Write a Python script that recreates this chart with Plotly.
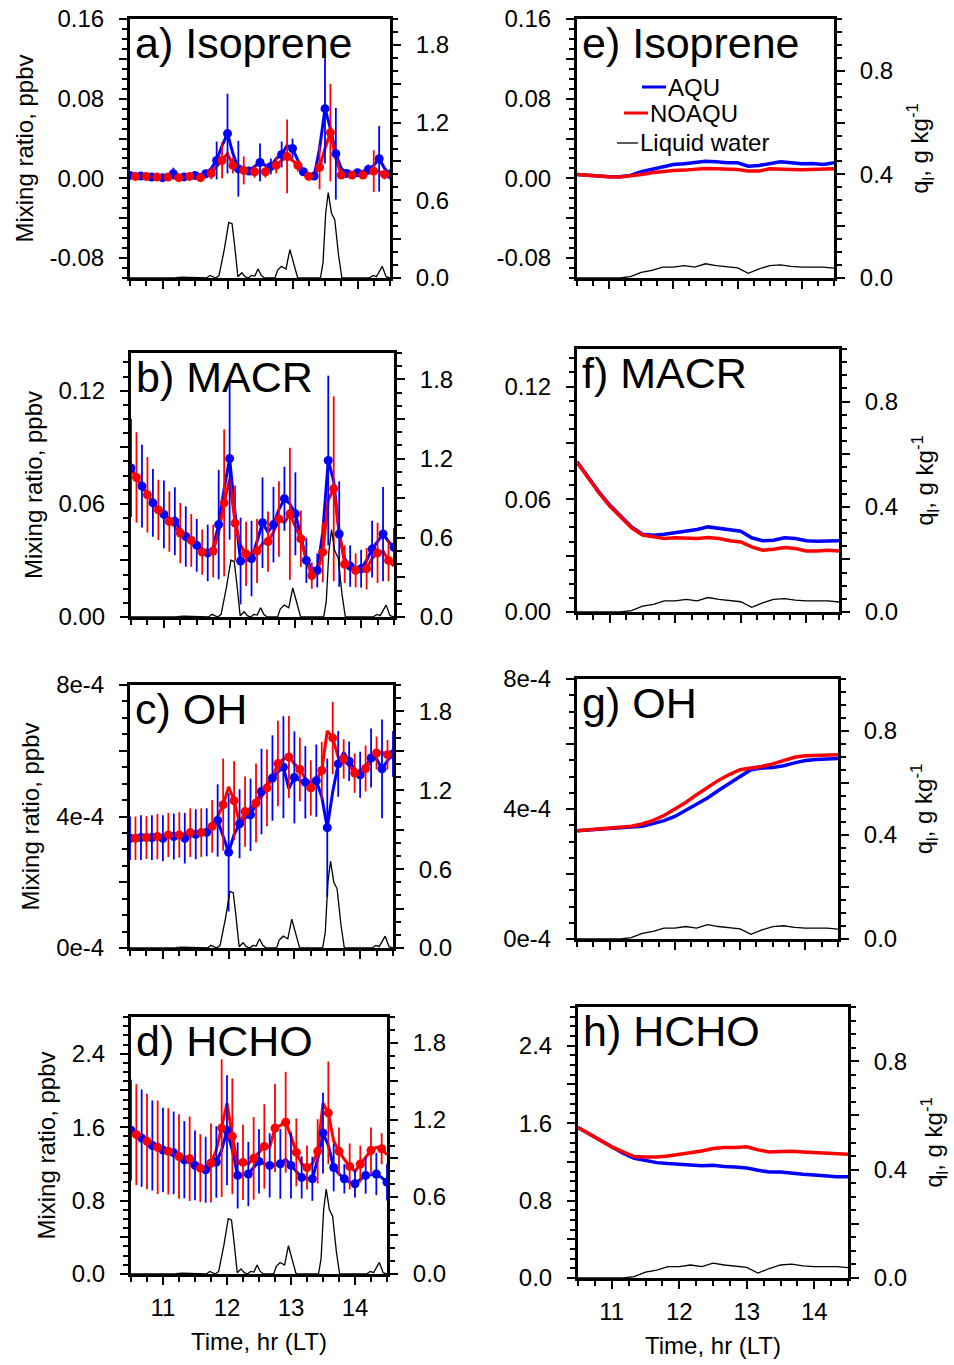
import numpy as np
import plotly.graph_objects as go

# ---------------- data ----------------
# left column: 5-min model output, AQU markers on even steps, NOAQU markers on odd steps
time_5min = np.round(np.arange(10.5, 14.5001, 5 / 60), 4)
# right column: domain means every 10 min
time_10min = np.round(np.arange(10.5, 14.5001, 10 / 60), 4)

iso_aqu = [0.003, 0.0027, 0.0023, 0.0018, 0.0013, 0.001, 0.0007, 0.003, 0.0047, 0.003,
           0.0015, 0.002, 0.003, 0.004, 0.0047, 0.01, 0.018, 0.033, 0.045, 0.025,
           0.0097, 0.009, 0.0073, 0.012, 0.016, 0.013, 0.012, 0.02, 0.024, 0.033,
           0.030, 0.018, 0.0067, 0.004, 0.0023, 0.03, 0.070, 0.05, 0.0247, 0.01,
           0.005, 0.005, 0.0057, 0.007, 0.009, 0.013, 0.0197, 0.01, 0.004]
iso_noaqu = [0.003, 0.002, 0.002, 0.002, 0.0016, 0.0013, 0.0013, 0.0013, 0.001, 0.0007,
             0.0014, 0.002, 0.0013, 0.0007, 0.002, 0.005, 0.012, 0.018, 0.025, 0.013,
             0.009, 0.008, 0.007, 0.0067, 0.0067, 0.0067, 0.009, 0.013, 0.018, 0.022,
             0.018, 0.013, 0.006, 0.002, 0.003, 0.011, 0.03, 0.046, 0.02, 0.0033,
             0.003, 0.0033, 0.0033, 0.0033, 0.005, 0.0073, 0.007, 0.004, 0.003]
iso_aqu_err = [0.002, 0.002, 0.002, 0.002, 0.006, 0.002, 0.002, 0.004, 0.019, 0.04,
               0.028, 0.003, 0.019, 0.008, 0.013, 0.01, 0.003, 0.002, 0.055, 0.046,
               0.003, 0.003, 0.005, 0.033, 0.005]
iso_noaqu_err = [0.002, 0.002, 0.002, 0.002, 0.002, 0.002, 0.002, 0.006, 0.018, 0.008,
                 0.014, 0.006, 0.006, 0.008, 0.037, 0.006, 0.002, 0.022, 0.049, 0.002,
                 0.002, 0.002, 0.021, 0.005]

macr_aqu = [0.079, 0.074, 0.0694, 0.065, 0.0605, 0.057, 0.0544, 0.052, 0.0508, 0.047,
            0.0427, 0.040, 0.038, 0.036, 0.034, 0.037, 0.049, 0.068, 0.084, 0.055,
            0.0297, 0.030, 0.031, 0.04, 0.05, 0.045, 0.049, 0.057, 0.0627, 0.060,
            0.0547, 0.043, 0.030, 0.026, 0.0247, 0.045, 0.083, 0.072, 0.044, 0.031,
            0.027, 0.026, 0.0256, 0.030, 0.036, 0.040, 0.044, 0.040, 0.037]
macr_noaqu = [0.078, 0.074, 0.069, 0.0648, 0.061, 0.0568, 0.054, 0.0506, 0.048, 0.0445,
              0.042, 0.0406, 0.037, 0.0344, 0.034, 0.035, 0.045, 0.0605, 0.073, 0.0498,
              0.038, 0.0335, 0.034, 0.035, 0.039, 0.04, 0.045, 0.052, 0.050, 0.0547,
              0.048, 0.0415, 0.030, 0.022, 0.024, 0.0344, 0.062, 0.068, 0.045, 0.028,
              0.026, 0.0247, 0.025, 0.0256, 0.031, 0.034, 0.035, 0.030, 0.027]
macr_aqu_err = [0.026, 0.022, 0.018, 0.018, 0.018, 0.016, 0.014, 0.015, 0.029, 0.043,
                0.023, 0.02, 0.024, 0.02, 0.017, 0.022, 0.012, 0.009, 0.045, 0.028,
                0.011, 0.01, 0.015, 0.025, 0.01]
macr_noaqu_err = [0.024, 0.02, 0.016, 0.016, 0.016, 0.014, 0.012, 0.014, 0.039, 0.02,
                  0.017, 0.017, 0.016, 0.02, 0.035, 0.015, 0.007, 0.016, 0.049, 0.01,
                  0.009, 0.011, 0.016, 0.011]

# OH in units of 1e-4 ppbv
oh_aqu = [3.34, 3.35, 3.36, 3.36, 3.36, 3.35, 3.34, 3.37, 3.39, 3.37,
          3.34, 3.40, 3.46, 3.49, 3.52, 3.65, 3.88, 3.40, 2.91, 3.45,
          3.78, 3.95, 4.05, 4.40, 4.76, 4.98, 5.17, 5.35, 5.50, 4.85,
          5.19, 5.10, 5.04, 5.05, 5.09, 4.60, 3.66, 4.75, 5.60, 5.95,
          5.68, 5.45, 5.27, 5.50, 5.78, 5.75, 5.45, 5.70, 5.90]
oh_noaqu = [3.33, 3.34, 3.35, 3.36, 3.38, 3.39, 3.42, 3.44, 3.44, 3.44,
            3.48, 3.51, 3.51, 3.51, 3.58, 3.70, 4.00, 4.36, 4.90, 4.48,
            3.80, 4.15, 4.25, 4.41, 4.60, 4.87, 5.20, 5.61, 5.75, 5.81,
            5.60, 5.43, 5.15, 4.87, 5.10, 5.40, 6.60, 6.39, 5.80, 5.75,
            5.55, 5.32, 5.40, 5.46, 5.70, 5.93, 5.95, 5.88, 5.80]
oh_aqu_err = [0.66, 0.68, 0.68, 0.7, 0.7, 0.77, 0.76, 0.73, 1.1, 1.8,
              1.05, 1.1, 1.3, 1.3, 1.55, 1.4, 1.1, 1.1, 2.1, 1.0,
              0.6, 0.7, 0.9, 1.5, 0.7]
oh_noaqu_err = [0.66, 0.65, 0.69, 0.67, 0.69, 0.74, 0.74, 0.8, 1.4, 1.2,
                1.07, 1.2, 1.17, 1.3, 1.25, 0.97, 0.84, 0.87, 1.1, 0.6,
                0.6, 0.7, 0.5, 0.45]

hcho_aqu = [1.566, 1.52, 1.48, 1.44, 1.40, 1.37, 1.35, 1.33, 1.32, 1.28,
            1.245, 1.21, 1.183, 1.16, 1.136, 1.17, 1.22, 1.35, 1.566, 1.35,
            1.074, 1.08, 1.09, 1.16, 1.227, 1.20, 1.183, 1.19, 1.20, 1.25,
            1.183, 1.11, 1.052, 1.04, 1.037, 1.25, 1.536, 1.40, 1.16, 1.09,
            1.037, 1.00, 0.983, 1.03, 1.074, 1.08, 1.09, 1.05, 1.0]
hcho_noaqu = [1.56, 1.518, 1.48, 1.445, 1.41, 1.38, 1.36, 1.336, 1.31, 1.28,
              1.27, 1.256, 1.20, 1.154, 1.17, 1.209, 1.35, 1.59, 1.86, 1.50,
              1.20, 1.216, 1.20, 1.26, 1.32, 1.39, 1.38, 1.59, 1.62, 1.653,
              1.50, 1.325, 1.20, 1.16, 1.20, 1.336, 1.86, 1.755, 1.45, 1.336,
              1.25, 1.172, 1.12, 1.198, 1.28, 1.347, 1.38, 1.365, 1.30]
hcho_aqu_err = [0.55, 0.53, 0.49, 0.46, 0.45, 0.42, 0.38, 0.36, 0.39, 0.6,
                0.36, 0.35, 0.35, 0.35, 0.38, 0.36, 0.23, 0.24, 0.44, 0.26,
                0.16, 0.15, 0.2, 0.23, 0.2]
hcho_noaqu_err = [0.55, 0.52, 0.51, 0.47, 0.46, 0.46, 0.37, 0.43, 0.75, 0.63,
                  0.41, 0.45, 0.46, 0.48, 0.55, 0.37, 0.24, 0.35, 0.56, 0.26,
                  0.25, 0.2, 0.25, 0.17]

# liquid water at the site, g/kg
lw_time = [10.5, 11.05, 11.12, 11.2, 11.3, 11.4, 11.48, 11.68, 11.73, 11.78,
           11.82, 11.87, 11.95, 12.02, 12.07, 12.11, 12.16, 12.22, 12.27, 12.32,
           12.37, 12.42, 12.47, 12.52, 12.57, 12.73, 12.77, 12.83, 12.9, 12.96,
           13.02, 13.08, 13.43, 13.47, 13.51, 13.55, 13.6, 13.65, 13.71, 13.76,
           14.18, 14.24, 14.29, 14.33, 14.38, 14.44, 14.5]
lw_site = [0, 0, 0.005, 0.003, 0.006, 0.004, 0, 0, 0.02, 0.012,
           0, 0.02, 0.22, 0.43, 0.42, 0.25, 0.01, 0.04, 0.01, 0,
           0.02, 0.015, 0.07, 0.02, 0, 0, 0.06, 0.09, 0.07, 0.22,
           0.1, 0, 0, 0.12, 0.5, 0.66, 0.5, 0.45, 0.17, 0,
           0, 0.02, 0.01, 0.05, 0.09, 0.01, 0]

# domain means (right column)
iso_aqu_mean = [0.004, 0.003, 0.0023, 0.0017, 0.0017, 0.003, 0.0067, 0.009, 0.0117, 0.014,
                0.0147, 0.0157, 0.0173, 0.0167, 0.0157, 0.0157, 0.0123, 0.013, 0.015, 0.0167,
                0.0157, 0.0147, 0.015, 0.014, 0.0157]
iso_noaqu_mean = [0.004, 0.003, 0.0023, 0.0017, 0.0013, 0.0023, 0.004, 0.0057, 0.007, 0.008,
                  0.0083, 0.009, 0.01, 0.0097, 0.009, 0.009, 0.0073, 0.0073, 0.0097, 0.0097,
                  0.009, 0.0087, 0.009, 0.009, 0.0097]
macr_aqu_mean = [0.080, 0.072, 0.064, 0.0569, 0.051, 0.0453, 0.0414, 0.0409, 0.0414, 0.0423,
                 0.0428, 0.0439, 0.0453, 0.0444, 0.0439, 0.043, 0.0395, 0.0379, 0.0382, 0.0395,
                 0.0391, 0.0379, 0.0377, 0.0377, 0.0379]
macr_noaqu_mean = [0.0797, 0.0715, 0.0635, 0.0564, 0.0507, 0.0448, 0.041, 0.040, 0.0391, 0.0395,
                   0.0391, 0.0391, 0.0396, 0.0391, 0.0379, 0.0373, 0.0347, 0.0329, 0.0334, 0.0343,
                   0.0338, 0.0325, 0.0325, 0.0329, 0.0325]
oh_aqu_mean = [3.33, 3.36, 3.39, 3.40, 3.42, 3.44, 3.47, 3.55, 3.64, 3.77,
               3.96, 4.13, 4.34, 4.57, 4.80, 5.0, 5.21, 5.26, 5.28, 5.33,
               5.42, 5.49, 5.52, 5.54, 5.55]
oh_noaqu_mean = [3.33, 3.36, 3.39, 3.41, 3.43, 3.47, 3.54, 3.65, 3.80, 4.0,
                 4.2, 4.44, 4.67, 4.88, 5.06, 5.21, 5.26, 5.31, 5.39, 5.49,
                 5.59, 5.64, 5.65, 5.67, 5.67]
hcho_aqu_mean = [1.555, 1.486, 1.417, 1.355, 1.289, 1.237, 1.21, 1.192, 1.182, 1.175,
                 1.168, 1.161, 1.165, 1.151, 1.147, 1.137, 1.113, 1.096, 1.096, 1.082,
                 1.071, 1.064, 1.054, 1.047, 1.047]
hcho_noaqu_mean = [1.555, 1.49, 1.42, 1.355, 1.303, 1.255, 1.251, 1.251, 1.261, 1.279,
                   1.289, 1.313, 1.337, 1.348, 1.348, 1.355, 1.324, 1.303, 1.306, 1.31,
                   1.303, 1.296, 1.289, 1.286, 1.279]
lw_mean = [0, 0, 0, 0, 0, 0.005, 0.022, 0.029, 0.042, 0.042,
           0.048, 0.042, 0.055, 0.048, 0.044, 0.039, 0.018, 0.035, 0.048, 0.051,
           0.045, 0.042, 0.042, 0.042, 0.038]

# ---------------- figure ----------------
W, H = 954, 1365
FONT = "Liberation Sans, Arial, Helvetica, sans-serif"
BLUE, RED = "#0000ff", "#ff0000"

e4 = lambda v: [x * 1e-4 for x in v]

# every other major tick is unlabelled, like the original
yaxes_left = {
    "Isoprene": dict(range=[-0.1, 0.16], tickvals=[-0.08, -0.04, 0, 0.04, 0.08, 0.12, 0.16],
                     ticktext=["-0.08", "", "0.00", "", "0.08", "", "0.16"], minor=0.01),
    "MACR": dict(range=[0, 0.14], tickvals=[0, 0.03, 0.06, 0.09, 0.12],
                 ticktext=["0.00", "", "0.06", "", "0.12"], minor=0.0075),
    "OH": dict(range=[0, 8e-4], tickvals=[0, 2e-4, 4e-4, 6e-4, 8e-4],
               ticktext=["0e-4", "", "4e-4", "", "8e-4"], minor=0.5e-4),
    "HCHO": dict(range=[0, 2.8], tickvals=[0, 0.4, 0.8, 1.2, 1.6, 2.0, 2.4],
                 ticktext=["0.0", "", "0.8", "", "1.6", "", "2.4"], minor=0.1),
}

# (label, species, column, box in px: left, right, top, bottom)
panels = [
    ("a", "Isoprene", 0, (130, 390, 19, 278), iso_aqu, iso_noaqu, iso_aqu_err, iso_noaqu_err),
    ("b", "MACR", 0, (131, 394, 353, 617), macr_aqu, macr_noaqu, macr_aqu_err, macr_noaqu_err),
    ("c", "OH", 0, (130, 393, 685, 948), e4(oh_aqu), e4(oh_noaqu), e4(oh_aqu_err), e4(oh_noaqu_err)),
    ("d", "HCHO", 0, (131, 387, 1017, 1274), hcho_aqu, hcho_noaqu, hcho_aqu_err, hcho_noaqu_err),
    ("e", "Isoprene", 1, (577, 834, 19, 278), iso_aqu_mean, iso_noaqu_mean, None, None),
    ("f", "MACR", 1, (577, 839, 349, 612), macr_aqu_mean, macr_noaqu_mean, None, None),
    ("g", "OH", 1, (577, 838, 679, 939), e4(oh_aqu_mean), e4(oh_noaqu_mean), None, None),
    ("h", "HCHO", 1, (578, 848, 1007, 1278), hcho_aqu_mean, hcho_noaqu_mean, None, None),
]

fig = go.Figure()
layout = {}
annotations = []

tick_font = dict(family=FONT, size=24, color="black")
common = dict(showline=True, linecolor="black", linewidth=3, ticks="outside", ticklen=8,
              tickwidth=2, tickcolor="black", showgrid=False, zeroline=False,
              tickfont=tick_font, ticklabelstandoff=10, automargin=False)
minor_style = dict(ticks="outside", ticklen=5, tickwidth=1.5, tickcolor="black", showgrid=False)


def name(kind, n):
    return kind if n == 1 else f"{kind}{n}"


for k, (lab, sp, col, box, aqu, noaqu, aqu_err, noaqu_err) in enumerate(panels):
    n = k + 1
    xn, yn, y2n = n, 2 * n - 1, 2 * n
    l, r, t, b = box
    xdom = [l / W, r / W]
    ydom = [1 - b / H, 1 - t / H]
    bottom = lab in ("d", "h")

    layout[name("xaxis", xn)] = dict(
        common, domain=xdom, anchor=name("y", yn), range=[10.5, 14.5], mirror=True,
        tickmode="array", tickvals=[11, 12, 13, 14], ticktext=["11", "12", "13", "14"],
        showticklabels=bottom, ticklabelstandoff=2,
        minor=dict(minor_style, dtick=0.25, tick0=10.5),
        title=dict(text="Time, hr (LT)" if bottom else None, font=dict(family=FONT, size=24),
                   standoff=14),
    )

    ya = yaxes_left[sp]
    layout[name("yaxis", yn)] = dict(
        common, domain=ydom, anchor=name("x", xn), range=ya["range"], tickmode="array",
        tickvals=ya["tickvals"], ticktext=ya["ticktext"],
        minor=dict(minor_style, dtick=ya["minor"], tick0=0),
        title=dict(text="Mixing ratio, ppbv" if col == 0 else None,
                   font=dict(family=FONT, size=24), standoff=10),
    )

    if col == 0:
        y2 = dict(range=[0, 2.0], tickvals=[0, 0.3, 0.6, 0.9, 1.2, 1.5, 1.8],
                  ticktext=["0.0", "", "0.6", "", "1.2", "", "1.8"], minor=0.1, title=None)
    else:
        y2 = dict(range=[0, 1.0], tickvals=[0, 0.2, 0.4, 0.6, 0.8],
                  ticktext=["0.0", "", "0.4", "", "0.8"], minor=0.05,
                  title="q<sub>l</sub>, g kg<sup>-1</sup>")
    layout[name("yaxis", y2n)] = dict(
        common, domain=ydom, anchor=name("x", xn), overlaying=name("y", yn), side="right",
        range=y2["range"], tickmode="array", tickvals=y2["tickvals"], ticktext=y2["ticktext"],
        minor=dict(minor_style, dtick=y2["minor"], tick0=0),
        title=dict(text=y2["title"], font=dict(family=FONT, size=24), standoff=20),
    )

    xr, yr, y2r = name("x", xn), name("y", yn), name("y", y2n)
    if col == 0:
        tt = time_5min
        fig.add_trace(go.Scatter(x=tt, y=aqu, mode="lines", line=dict(color=BLUE, width=3),
                                 xaxis=xr, yaxis=yr))
        fig.add_trace(go.Scatter(x=tt, y=noaqu, mode="lines", line=dict(color=RED, width=3),
                                 xaxis=xr, yaxis=yr))
        fig.add_trace(go.Scatter(x=tt[0::2], y=aqu[0::2], mode="markers",
                                 marker=dict(color=BLUE, size=9),
                                 error_y=dict(type="data", array=aqu_err, color=BLUE,
                                              thickness=1.8, width=0),
                                 xaxis=xr, yaxis=yr))
        fig.add_trace(go.Scatter(x=tt[1::2], y=noaqu[1::2], mode="markers",
                                 marker=dict(color=RED, size=9),
                                 error_y=dict(type="data", array=noaqu_err, color=RED,
                                              thickness=1.8, width=0),
                                 xaxis=xr, yaxis=yr))
        fig.add_trace(go.Scatter(x=lw_time, y=lw_site, mode="lines",
                                 line=dict(color="black", width=1.3), xaxis=xr, yaxis=y2r))
    else:
        tt = time_10min
        fig.add_trace(go.Scatter(x=tt, y=aqu, mode="lines", line=dict(color=BLUE, width=3.5),
                                 xaxis=xr, yaxis=yr))
        fig.add_trace(go.Scatter(x=tt, y=noaqu, mode="lines", line=dict(color=RED, width=3.5),
                                 xaxis=xr, yaxis=yr))
        fig.add_trace(go.Scatter(x=tt, y=lw_mean, mode="lines",
                                 line=dict(color="black", width=1.3), xaxis=xr, yaxis=y2r))

    annotations.append(dict(text=f"{lab}) {sp}", xref=f"{xr} domain", yref=f"{yr} domain",
                            x=0, y=1, xanchor="left", yanchor="top", xshift=3, yshift=2,
                            showarrow=False, font=dict(family=FONT, size=43, color="black")))

# legend drawn inside panel e
shapes = []
legend_items = [("AQU", BLUE, 3, 642, 666, 87), ("NOAQU", RED, 3, 624, 648, 113),
                ("Liquid water", "black", 1.3, 617, 638, 143)]
for txt, c, wdt, x0, x1, yy in legend_items:
    shapes.append(dict(type="line", xref="paper", yref="paper", x0=x0 / W, x1=x1 / W,
                       y0=1 - yy / H, y1=1 - yy / H, line=dict(color=c, width=wdt)))
    annotations.append(dict(text=txt, xref="paper", yref="paper", x=x1 / W, y=1 - yy / H,
                            xanchor="left", yanchor="middle", showarrow=False,
                            font=dict(family=FONT, size=24, color="black")))

fig.update_layout(
    width=W, height=H, margin=dict(l=0, r=0, t=0, b=0),
    paper_bgcolor="white", plot_bgcolor="white", showlegend=False,
    font=dict(family=FONT, size=24, color="black"),
    annotations=annotations, shapes=shapes, **layout,
)

# page body margin would shift the 954x1365 figure off the window
fig.write_html("out.html", config={"displayModeBar": False},
               post_script="document.body.style.margin = '0';")
